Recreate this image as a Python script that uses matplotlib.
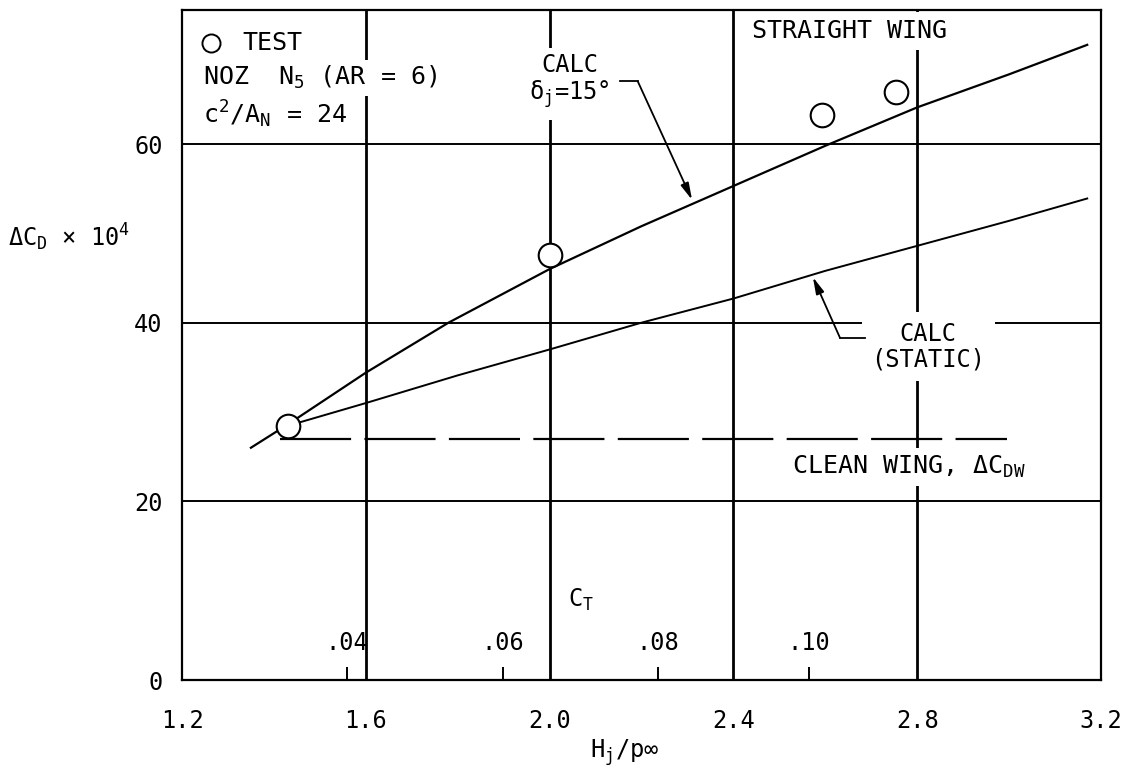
import numpy as np
import matplotlib
matplotlib.use('Agg')
import matplotlib.pyplot as plt

plt.rcParams['font.family'] = ['DejaVu Sans Mono', 'DejaVu Sans']
plt.rcParams['mathtext.fontset'] = 'custom'
plt.rcParams['mathtext.rm'] = 'DejaVu Sans Mono'
plt.rcParams['mathtext.it'] = 'DejaVu Sans Mono'
plt.rcParams['mathtext.bf'] = 'DejaVu Sans Mono:bold'

# test points
test_x = [1.43, 2.0, 2.593, 2.754]
test_y = [28.4, 47.6, 63.2, 65.8]

# calc, delta_j = 15 deg
calc_x = [1.35, 1.43, 1.6, 1.78, 2.0, 2.2, 2.4, 2.6, 2.8, 3.0, 3.17]
calc_y = [26.0, 28.6, 34.4, 40.0, 46.0, 50.8, 55.3, 59.8, 64.1, 67.8, 71.1]

# calc, static
static_x = [1.44, 1.6, 1.8, 2.0, 2.2, 2.4, 2.6, 2.8, 3.0, 3.17]
static_y = [28.6, 31.0, 34.1, 37.0, 40.0, 42.7, 45.8, 48.6, 51.4, 53.9]

# clean wing level
clean_x = [1.413, 2.995]
clean_y = 27.0

# secondary C_T scale placed on the H_j/p axis
ct_labels = ['.04', '.06', '.08', '.10']
ct_pos = [1.558, 1.899, 2.235, 2.565]

x_ticks = [1.2, 1.6, 2.0, 2.4, 2.8, 3.2]
y_ticks = [0, 20, 40, 60]

fig = plt.figure(figsize=(11.24, 7.72), dpi=100)
ax = fig.add_axes([182/1124, 1 - 680/772, (1101 - 182)/1124, 670/772])
ax.set_xlim(1.2, 3.2)
ax.set_ylim(0, 75)

ax.set_xticks(x_ticks)
ax.set_xticklabels([f'{v:.1f}' for v in x_ticks])
ax.set_yticks(y_ticks)
ax.tick_params(axis='both', length=0, labelsize=17)
ax.tick_params(axis='x', pad=21)
ax.tick_params(axis='y', pad=14)
for s in ax.spines.values():
    s.set_linewidth(1.6)

# grid
for x in x_ticks[1:-1]:
    ax.axvline(x, color='k', lw=2.0, zorder=1)
for y in y_ticks[1:]:
    ax.axhline(y, color='k', lw=1.4, zorder=1)

# curves
ax.plot(calc_x, calc_y, color='k', lw=1.6, zorder=2)
ax.plot(static_x, static_y, color='k', lw=1.4, zorder=2)
ax.plot(clean_x, [clean_y, clean_y], color='k', lw=1.6, dashes=(32, 6), zorder=2)
ax.plot(test_x, test_y, 'o', ms=17, mfc='white', mec='k', mew=1.5, zorder=4)

# C_T ticks and labels
ax.vlines(ct_pos, 0, 1.5, color='k', lw=1.4)
for p, lab in zip(ct_pos, ct_labels):
    ax.text(p, 4.1, lab, ha='center', va='center', fontsize=17)
ax.text(2.04, 9.0, 'C$_T$', ha='left', va='center', fontsize=17)

white = dict(facecolor='white', edgecolor='none')

# key box
ax.plot([1.263], [71.3], 'o', ms=13, mfc='white', mec='k', mew=1.4, zorder=6)
ax.text(1.331, 71.3, 'TEST', ha='left', va='center', fontsize=18, zorder=6)
ax.text(1.246, 67.4, 'NOZ  N$_5$ (AR = 6)', ha='left', va='center', fontsize=18,
        bbox=dict(white, pad=3), zorder=6)
ax.text(1.246, 63.3, 'c$^2$/A$_N$ = 24', ha='left', va='center', fontsize=18, zorder=6)

ax.text(2.44, 72.6, 'STRAIGHT WING', ha='left', va='center', fontsize=18,
        bbox=dict(white, pad=5), zorder=6)

# annotations
ax.text(2.044, 67.0, 'CALC\nδ$_j$=15°', ha='center', va='center', fontsize=17,
        multialignment='center', linespacing=1.1, bbox=dict(white, pad=7), zorder=6)
ax.plot([2.153, 2.192], [67.0, 67.0], color='k', lw=1.3, zorder=6)
ax.annotate('', xy=(2.31, 53.75), xytext=(2.192, 67.0),
            arrowprops=dict(arrowstyle='-|>,head_length=1.0,head_width=0.25',
                            color='k', lw=1.3, shrinkA=0, shrinkB=0), zorder=6)

ax.text(2.824, 37.3, 'CALC\n(STATIC)', ha='center', va='center', fontsize=17,
        multialignment='center', linespacing=1.1, bbox=dict(white, pad=7), zorder=6)
ax.plot([2.632, 2.686], [38.3, 38.3], color='k', lw=1.3, zorder=6)
ax.annotate('', xy=(2.573, 45.1), xytext=(2.632, 38.3),
            arrowprops=dict(arrowstyle='-|>,head_length=1.0,head_width=0.25',
                            color='k', lw=1.3, shrinkA=0, shrinkB=0), zorder=6)

ax.text(2.527, 23.85, 'CLEAN WING, ΔC$_{DW}$', ha='left', va='center', fontsize=18,
        bbox=dict(white, pad=4), zorder=6)

# axis titles
fig.text(8/1124, 1 - 237/772, 'ΔC$_D$ × 10$^4$', ha='left', va='center', fontsize=17)
fig.text(625/1124, 1 - 753/772, 'H$_j$/p∞', ha='center', va='center', fontsize=17)

fig.savefig('out.png', dpi=100)
